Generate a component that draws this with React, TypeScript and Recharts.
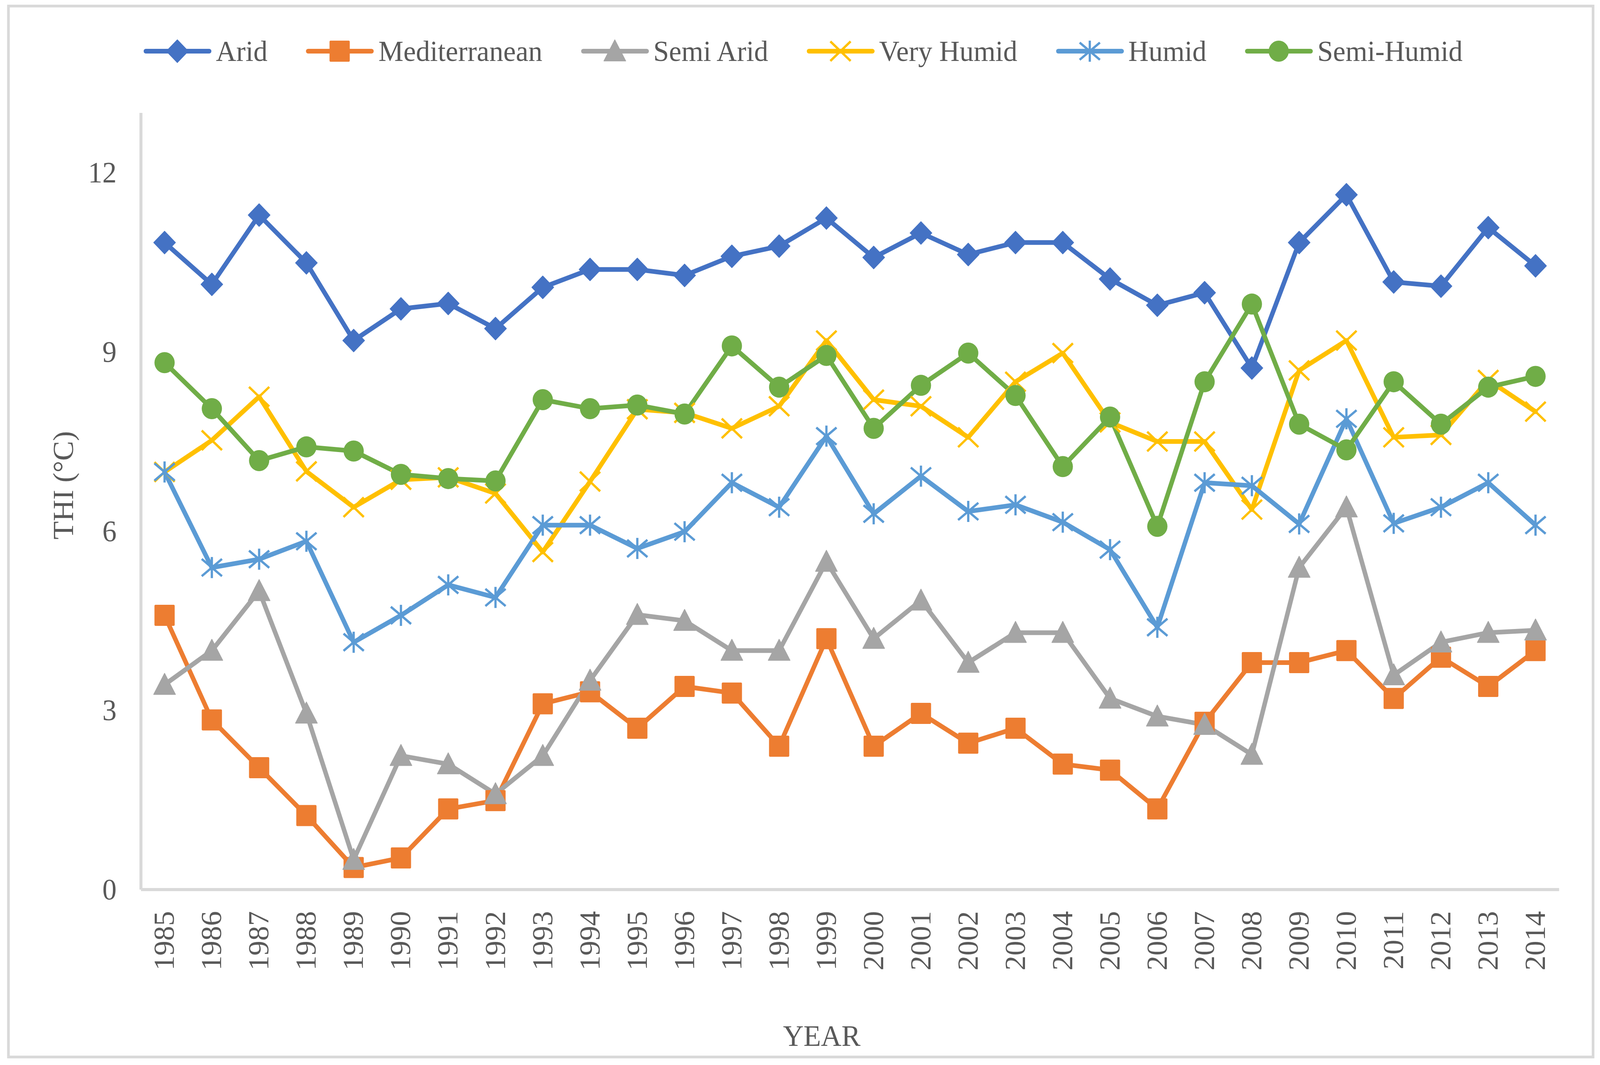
import React from 'react';
import { Line, LineChart, XAxis, YAxis } from 'recharts';

const years = [
  '1985', '1986', '1987', '1988', '1989', '1990', '1991', '1992', '1993', '1994',
  '1995', '1996', '1997', '1998', '1999', '2000', '2001', '2002', '2003', '2004',
  '2005', '2006', '2007', '2008', '2009', '2010', '2011', '2012', '2013', '2014',
];

const arid = [
  10.83, 10.13, 11.29, 10.49, 9.19, 9.72, 9.81, 9.39, 10.08, 10.38,
  10.38, 10.28, 10.6, 10.77, 11.24, 10.58, 10.99, 10.63, 10.83, 10.83,
  10.22, 9.78, 9.99, 8.73, 10.83, 11.63, 10.17, 10.1, 11.08, 10.44,
];
const mediterranean = [
  4.59, 2.84, 2.04, 1.24, 0.37, 0.53, 1.35, 1.49, 3.11, 3.31,
  2.7, 3.4, 3.29, 2.4, 4.2, 2.4, 2.95, 2.45, 2.7, 2.1,
  2.0, 1.35, 2.8, 3.8, 3.8, 4.0, 3.2, 3.89, 3.4, 4.0,
];
const semiArid = [
  3.43, 4.0, 5.0, 2.95, 0.5, 2.24, 2.1, 1.6, 2.24, 3.5,
  4.6, 4.5, 4.0, 4.0, 5.49, 4.2, 4.84, 3.8, 4.3, 4.3,
  3.2, 2.9, 2.76, 2.26, 5.39, 6.4, 3.59, 4.14, 4.3, 4.34,
];
const veryHumid = [
  6.99, 7.52, 8.25, 7.0, 6.4, 6.86, 6.9, 6.63, 5.65, 6.83,
  8.04, 7.98, 7.72, 8.09, 9.19, 8.2, 8.09, 7.57, 8.5, 8.98,
  7.82, 7.5, 7.5, 6.36, 8.69, 9.19, 7.57, 7.61, 8.53, 8.0,
];
const humid = [
  6.99, 5.39, 5.53, 5.83, 4.14, 4.59, 5.1, 4.89, 6.1, 6.1,
  5.71, 5.99, 6.81, 6.4, 7.59, 6.29, 6.92, 6.33, 6.44, 6.15,
  5.69, 4.39, 6.81, 6.76, 6.12, 7.88, 6.13, 6.4, 6.81, 6.1,
];
const semiHumid = [
  8.82, 8.05, 7.18, 7.41, 7.34, 6.95, 6.88, 6.84, 8.2, 8.05,
  8.11, 7.96, 9.1, 8.41, 8.94, 7.72, 8.44, 8.98, 8.27, 7.08,
  7.91, 6.08, 8.5, 9.8, 7.79, 7.36, 8.5, 7.79, 8.41, 8.59,
];

const yTicks = [0, 3, 6, 9, 12];

const FONT = '"Liberation Serif", "Times New Roman", serif';
const TEXT = '#595959';
const AXIS = '#d9d9d9';
const W = 4268;
const H = 2726;

type Shape = 'diamond' | 'square' | 'triangle' | 'x' | 'star' | 'circle';

const series: { key: string; name: string; color: string; shape: Shape }[] = [
  { key: 'arid', name: 'Arid', color: '#4472C4', shape: 'diamond' },
  { key: 'mediterranean', name: 'Mediterranean', color: '#ED7D31', shape: 'square' },
  { key: 'semiArid', name: 'Semi Arid', color: '#A5A5A5', shape: 'triangle' },
  { key: 'veryHumid', name: 'Very Humid', color: '#FFC000', shape: 'x' },
  { key: 'humid', name: 'Humid', color: '#5B9BD5', shape: 'star' },
  { key: 'semiHumid', name: 'Semi-Humid', color: '#70AD47', shape: 'circle' },
];

const data = years.map((year, i) => ({
  year,
  arid: arid[i],
  mediterranean: mediterranean[i],
  semiArid: semiArid[i],
  veryHumid: veryHumid[i],
  humid: humid[i],
  semiHumid: semiHumid[i],
}));

function Marker({ shape, cx, cy, color }: { shape: Shape; cx: number; cy: number; color: string }) {
  switch (shape) {
    case 'diamond':
      return (
        <polygon
          points={`${cx},${cy - 29} ${cx + 29},${cy} ${cx},${cy + 29} ${cx - 29},${cy}`}
          fill={color}
          stroke={color}
          strokeWidth={2}
          strokeLinejoin="round"
        />
      );
    case 'square':
      return <rect x={cx - 27} y={cy - 27} width={54} height={54} rx={3} fill={color} />;
    case 'triangle':
      return (
        <polygon
          points={`${cx},${cy - 29} ${cx + 29},${cy + 25} ${cx - 29},${cy + 25}`}
          fill={color}
          stroke={color}
          strokeWidth={2}
          strokeLinejoin="round"
        />
      );
    case 'circle':
      return <circle cx={cx} cy={cy} r={27} fill={color} />;
    case 'x':
      return (
        <g stroke={color} strokeWidth={6}>
          <line x1={cx - 27} y1={cy - 25} x2={cx + 27} y2={cy + 25} />
          <line x1={cx - 27} y1={cy + 25} x2={cx + 27} y2={cy - 25} />
        </g>
      );
    case 'star':
      return (
        <g stroke={color} strokeWidth={6}>
          <line x1={cx - 27} y1={cy - 22} x2={cx + 27} y2={cy + 22} />
          <line x1={cx - 27} y1={cy + 22} x2={cx + 27} y2={cy - 22} />
          <line x1={cx} y1={cy - 27} x2={cx} y2={cy + 27} />
        </g>
      );
    default:
      return null;
  }
}

const YTick = ({ y, payload }: any) => (
  <text x={311} y={y} dy="0.33em" textAnchor="end" fill={TEXT} fontFamily={FONT} fontSize={76}>
    {payload.value}
  </text>
);

const XTick = ({ x, payload }: any) => (
  <text
    x={x}
    y={2332}
    dy="0.33em"
    textAnchor="end"
    transform={`rotate(-90 ${x} 2332)`}
    fill={TEXT}
    fontFamily={FONT}
    fontSize={76}
  >
    {payload.value}
  </text>
);

const YTitle = () => (
  <text
    x={170}
    y={1242}
    dy="0.33em"
    textAnchor="middle"
    transform="rotate(-90 170 1242)"
    fill={TEXT}
    fontFamily={FONT}
    fontSize={76}
  >
    THI (°C)
  </text>
);

const XTitle = () => (
  <text x={2192} y={2652} dy="0.33em" textAnchor="middle" fill={TEXT} fontFamily={FONT} fontSize={76}>
    YEAR
  </text>
);

function LegendRow() {
  return (
    <div
      style={{
        position: 'absolute',
        left: 383,
        top: 101,
        height: 60,
        display: 'flex',
        alignItems: 'center',
        fontFamily: FONT,
        fontSize: 75,
        color: TEXT,
        whiteSpace: 'nowrap',
      }}
    >
      {series.map((s, i) => (
        <div
          key={s.key}
          style={{ display: 'flex', alignItems: 'center', marginRight: i < series.length - 1 ? 103 : 0 }}
        >
          <svg width={181} height={60} style={{ display: 'block' }}>
            <line x1={6} y1={30} x2={175} y2={30} stroke={s.color} strokeWidth={12} strokeLinecap="round" />
            <Marker shape={s.shape} cx={90} cy={30} color={s.color} />
          </svg>
          <span style={{ marginLeft: 12, lineHeight: '60px' }}>{s.name}</span>
        </div>
      ))}
    </div>
  );
}

export default function App() {
  // the browser viewport can be narrower than the target size; fit the chart into it
  const [scale] = React.useState(() => ({
    x: Math.min(1, window.innerWidth / W),
    y: Math.min(1, window.innerHeight / H),
  }));
  React.useEffect(() => {
    document.documentElement.style.overflow = 'hidden';
    document.body.style.overflow = 'hidden';
  }, []);

  return (
    <div
      style={{
        position: 'absolute',
        left: 0,
        top: 0,
        width: W,
        height: H,
        background: '#fff',
        transform: `scale(${scale.x}, ${scale.y})`,
        transformOrigin: '0 0',
      }}
    >
      <div
        style={{
          position: 'absolute',
          left: 19,
          top: 12,
          width: 4234,
          height: 2697,
          border: `7px solid ${AXIS}`,
          boxSizing: 'border-box',
        }}
      />
      <div style={{ position: 'absolute', left: 0, top: 0 }}>
        <LineChart width={W} height={H} data={data} margin={{ top: 289, right: 109, bottom: 0, left: 0 }}>
          <XAxis
            dataKey="year"
            type="category"
            interval={0}
            height={449}
            padding={{ left: 63, right: 63 }}
            axisLine={{ stroke: AXIS, strokeWidth: 8 }}
            tickLine={false}
            tick={<XTick />}
            label={<XTitle />}
          />
          <YAxis
            type="number"
            domain={[0, 13]}
            ticks={yTicks}
            width={376}
            axisLine={{ stroke: AXIS, strokeWidth: 8 }}
            tickLine={false}
            tick={<YTick />}
            label={<YTitle />}
          />
          {series.map((s) => (
            <Line
              key={s.key}
              type="linear"
              dataKey={s.key}
              name={s.name}
              stroke={s.color}
              strokeWidth={12}
              strokeLinejoin="round"
              strokeLinecap="round"
              isAnimationActive={false}
              activeDot={false}
              dot={(p: any) => (
                <Marker key={`${s.key}-${p.index}`} shape={s.shape} cx={p.cx} cy={p.cy} color={s.color} />
              )}
            />
          ))}
        </LineChart>
      </div>
      <LegendRow />
    </div>
  );
}
